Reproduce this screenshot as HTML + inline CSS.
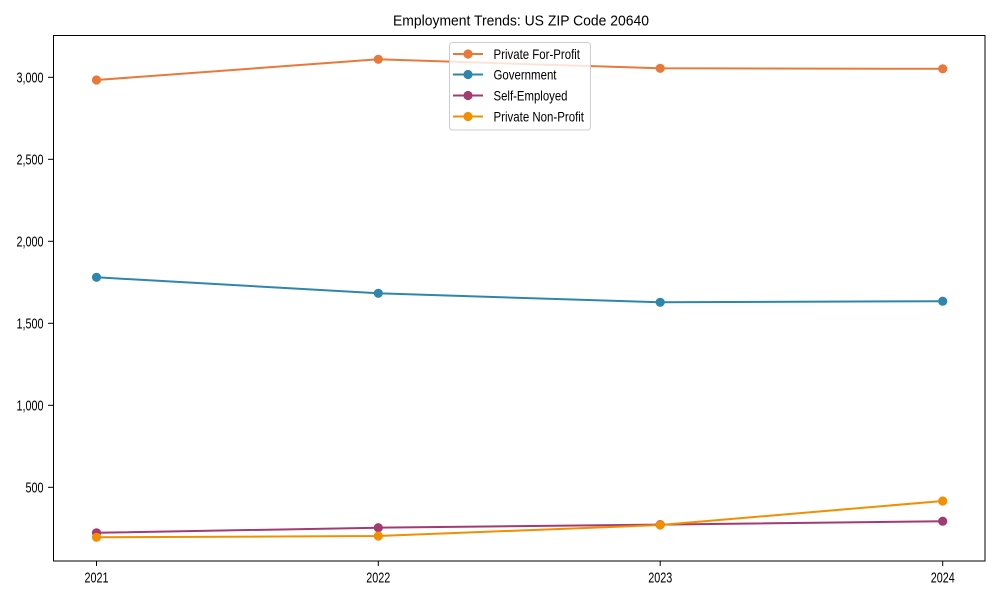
<!DOCTYPE html>
<html>
<head>
<meta charset="utf-8">
<style>
html,body{margin:0;padding:0;background:#fff;}
svg{display:block;}
text{font-family:"Liberation Sans",Arial,sans-serif;fill:#000;}
</style>
</head>
<body>
<svg width="1000" height="600" viewBox="0 0 1000 600" xmlns="http://www.w3.org/2000/svg">
<rect x="0" y="0" width="1000" height="600" fill="#fff"/>
<!-- title -->
<text x="521" y="25.5" font-size="15" text-anchor="middle" textLength="256" lengthAdjust="spacingAndGlyphs">Employment Trends: US ZIP Code 20640</text>

<!-- ticks -->
<g stroke="#000" stroke-width="1">
<line x1="48" y1="77.3" x2="53" y2="77.3"/>
<line x1="48" y1="159.3" x2="53" y2="159.3"/>
<line x1="48" y1="241.3" x2="53" y2="241.3"/>
<line x1="48" y1="323.3" x2="53" y2="323.3"/>
<line x1="48" y1="405.3" x2="53" y2="405.3"/>
<line x1="48" y1="487.3" x2="53" y2="487.3"/>
<line x1="96.5" y1="561" x2="96.5" y2="566"/>
<line x1="378.3" y1="561" x2="378.3" y2="566"/>
<line x1="660.2" y1="561" x2="660.2" y2="566"/>
<line x1="942.7" y1="561" x2="942.7" y2="566"/>
</g>
<g font-size="15" text-anchor="end">
<text x="43.5" y="82.5" textLength="27" lengthAdjust="spacingAndGlyphs">3,000</text>
<text x="43.5" y="164.5" textLength="27" lengthAdjust="spacingAndGlyphs">2,500</text>
<text x="43.5" y="246.5" textLength="27" lengthAdjust="spacingAndGlyphs">2,000</text>
<text x="43.5" y="328.5" textLength="27" lengthAdjust="spacingAndGlyphs">1,500</text>
<text x="43.5" y="410.5" textLength="27" lengthAdjust="spacingAndGlyphs">1,000</text>
<text x="43.5" y="492.5" textLength="18" lengthAdjust="spacingAndGlyphs">500</text>
</g>
<g font-size="15" text-anchor="middle">
<text x="96.5" y="582.5" textLength="24" lengthAdjust="spacingAndGlyphs">2021</text>
<text x="378.3" y="582.5" textLength="24" lengthAdjust="spacingAndGlyphs">2022</text>
<text x="660.2" y="582.5" textLength="24" lengthAdjust="spacingAndGlyphs">2023</text>
<text x="942.7" y="582.5" textLength="24" lengthAdjust="spacingAndGlyphs">2024</text>
</g>

<!-- series -->
<g fill="none" stroke-width="2" stroke-linejoin="round">
<polyline stroke="#E8793A" points="96.5,80 378.3,59.3 660.2,68.3 942.7,68.8"/>
<polyline stroke="#2E86AB" points="96.5,277.3 378.3,293.3 660.2,302.3 942.7,301.2"/>
<polyline stroke="#A23B72" points="96.5,532.8 378.3,527.7 660.2,524.6 942.7,521.2"/>
<polyline stroke="#F18F01" points="96.5,537.3 378.3,536 660.2,525 942.7,501"/>
</g>
<g fill="#E8793A">
<circle cx="96.5" cy="80" r="4.6"/><circle cx="378.3" cy="59.3" r="4.6"/><circle cx="660.2" cy="68.3" r="4.6"/><circle cx="942.7" cy="68.8" r="4.6"/>
</g>
<g fill="#2E86AB">
<circle cx="96.5" cy="277.3" r="4.6"/><circle cx="378.3" cy="293.3" r="4.6"/><circle cx="660.2" cy="302.3" r="4.6"/><circle cx="942.7" cy="301.2" r="4.6"/>
</g>
<g fill="#A23B72">
<circle cx="96.5" cy="532.8" r="4.6"/><circle cx="378.3" cy="527.7" r="4.6"/><circle cx="660.2" cy="524.6" r="4.6"/><circle cx="942.7" cy="521.2" r="4.6"/>
</g>
<g fill="#F18F01">
<circle cx="96.5" cy="537.3" r="4.6"/><circle cx="378.3" cy="536" r="4.6"/><circle cx="660.2" cy="525" r="4.6"/><circle cx="942.7" cy="501" r="4.6"/>
</g>

<!-- axes frame -->
<rect x="53.5" y="35.5" width="931.5" height="525.5" fill="none" stroke="#000" stroke-width="1"/>

<!-- legend -->
<rect x="449.5" y="42.5" width="141" height="87.5" rx="3" ry="3" fill="#fff" fill-opacity="0.8" stroke="#cccccc" stroke-width="1"/>
<g stroke-width="2">
<line x1="453" y1="54" x2="483" y2="54" stroke="#E8793A"/>
<line x1="453" y1="74.5" x2="483" y2="74.5" stroke="#2E86AB"/>
<line x1="453" y1="95.5" x2="483" y2="95.5" stroke="#A23B72"/>
<line x1="453" y1="116.5" x2="483" y2="116.5" stroke="#F18F01"/>
</g>
<circle cx="468" cy="54" r="4.6" fill="#E8793A"/>
<circle cx="468" cy="74.5" r="4.6" fill="#2E86AB"/>
<circle cx="468" cy="95.5" r="4.6" fill="#A23B72"/>
<circle cx="468" cy="116.5" r="4.6" fill="#F18F01"/>
<g font-size="14">
<text x="493.5" y="59" textLength="86.5" lengthAdjust="spacingAndGlyphs">Private For-Profit</text>
<text x="493.5" y="79.5" textLength="63" lengthAdjust="spacingAndGlyphs">Government</text>
<text x="493.5" y="100.5" textLength="74" lengthAdjust="spacingAndGlyphs">Self-Employed</text>
<text x="493.5" y="121.5" textLength="90.5" lengthAdjust="spacingAndGlyphs">Private Non-Profit</text>
</g>
</svg>
</body>
</html>
